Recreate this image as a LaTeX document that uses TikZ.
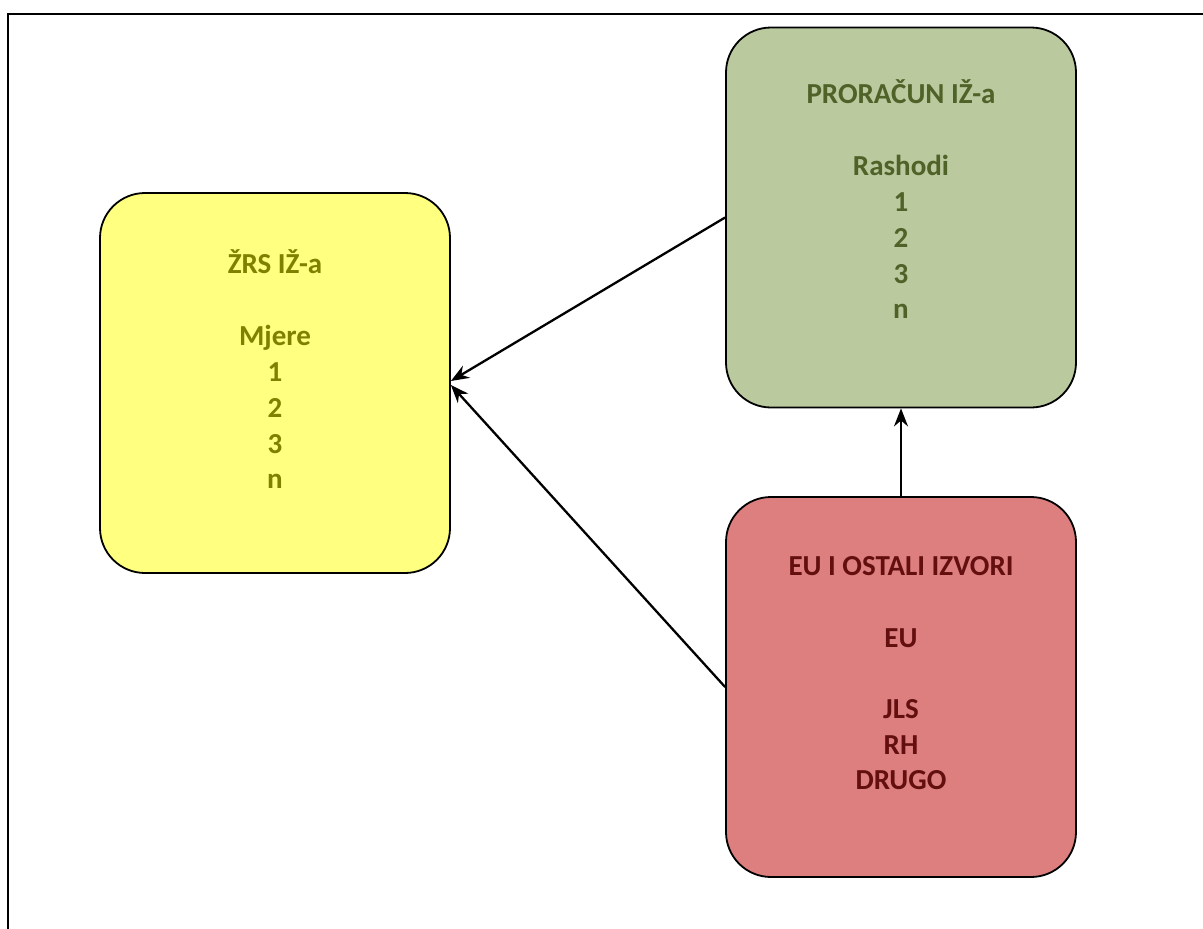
\documentclass[tikz,border=0pt]{standalone}
\usepackage{fontspec}
\setmainfont{Carlito}
\usetikzlibrary{arrows.meta}
\definecolor{yfill}{RGB}{255,255,128}
\definecolor{ytext}{RGB}{128,128,0}
\definecolor{gfill}{RGB}{186,201,158}
\definecolor{gtext}{RGB}{79,98,40}
\definecolor{rfill}{RGB}{222,127,127}
\definecolor{rtext}{RGB}{99,15,15}
\begin{document}
\begin{tikzpicture}[x=1pt,y=-1pt,
  box/.style={draw=black, line width=1.8pt, rounded corners=45pt,
    minimum width=350pt, minimum height=380pt, inner sep=0pt},
  txt/.style={font=\fontsize{29}{34}\selectfont\bfseries, inner sep=0pt, anchor=base},
  conn/.style={-{Stealth[length=18pt,width=14pt]}, line width=2.3pt}]
\useasboundingbox (0,0) rectangle (1203,929);
\draw[line width=2.6pt] (8,929) -- (8,14) -- (1203,14);

\node[box, fill=yfill] (zrs) at (275,383) {};
\node[box, fill=gfill] (pr) at (901,217.5) {};
\node[box, fill=rfill] (eu) at (901,687) {};

\foreach \t/\yy [count=\i] in {ŽRS IŽ-a/273, Mjere/345, 1/381, 2/417, 3/453, n/488}
  \node[txt, text=ytext] (zrs-t\i) at (275,\yy) {\t};
\foreach \t/\yy [count=\i] in {PRORAČUN IŽ-a/103, Rashodi/175, 1/211, 2/247, 3/283, n/318}
  \node[txt, text=gtext] (pr-t\i) at (901,\yy) {\t};
\foreach \t/\yy [count=\i] in {EU I OSTALI IZVORI/575, EU/647, JLS/718, RH/754, DRUGO/789}
  \node[txt, text=rtext] (eu-t\i) at (901,\yy) {\t};

\draw[conn] (pr.west) -- ([yshift=2pt]zrs.east);
\draw[conn] (eu.west) -- ([yshift=-2pt]zrs.east);
\draw[conn] (eu.north) -- (pr.south);
\end{tikzpicture}
\end{document}
